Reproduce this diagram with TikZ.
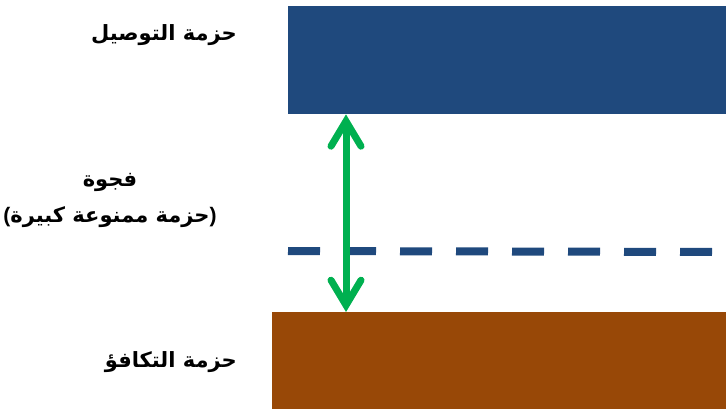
\documentclass[tikz,border=0pt]{standalone}
\usepackage{fontspec}
\usetikzlibrary{arrows.meta}
\TeXXeTstate=1
\newfontfamily\arabicfont[Script=Arabic]{DejaVu Sans}
\newfontfamily\parenfont{Liberation Sans}
\definecolor{cbblue}{HTML}{1F497D}
\definecolor{vbbrown}{HTML}{984807}
\definecolor{gapgreen}{HTML}{00B050}
\tikzset{
  band/.style={inner sep=0pt, anchor=north west, draw=none},
  lbl/.style={font=\arabicfont\bfseries\fontsize{21}{36}\selectfont, inner sep=0pt},
  gaparrow/.style={draw=gapgreen, line width=7pt,
    {Straight Barb[length=25pt,width=30pt,line cap=round]}-{Straight Barb[length=25pt,width=30pt,line cap=round]}},
  fermi/.style={draw=cbblue, line width=8pt, dash pattern=on 32pt off 24pt}
}
\begin{document}
\begin{tikzpicture}[x=1pt, y=-1pt]
\useasboundingbox (0,0) rectangle (726,409);
% bands
\node[band, fill=cbblue, minimum width=438pt, minimum height=108pt](cb) at (288,6){};
\node[band, fill=vbbrown, minimum width=454pt, minimum height=97pt](vb) at (272,312){};
% labels
\node[lbl, anchor=east](cbl) at (237,35){\beginR حزمة التوصيل\endR};
\node[lbl, align=center](gapl) at (110,200){\beginR فجوة\endR\\{\parenfont\bfseries(}\beginR حزمة ممنوعة كبيرة\endR{\parenfont\bfseries)}};
\node[lbl, anchor=east](vbl) at (237,362){\beginR حزمة التكافؤ\endR};
% dashed level
\coordinate (fl) at (288,251);
\coordinate (fr) at (712,252);
\draw[fermi](fl)--(fr);
% gap arrow
\coordinate (gt) at ([xshift=58pt]cb.south west);
\coordinate (gb) at ([xshift=74pt]vb.north west);
\draw[gaparrow](gt)--(gb);
\end{tikzpicture}
\end{document}
